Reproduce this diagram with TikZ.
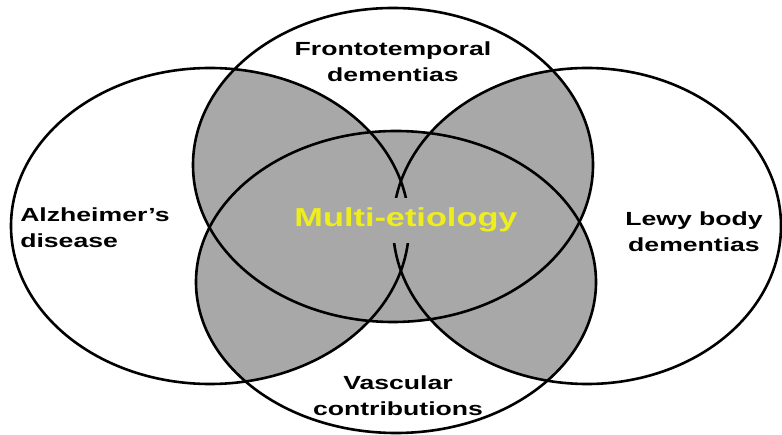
\documentclass[tikz,border=0pt]{standalone}
\usepackage{fontspec}
\setmainfont{Liberation Sans}
\usetikzlibrary{positioning}

\definecolor{lapgray}{RGB}{168,168,168}
\definecolor{etioyellow}{RGB}{238,238,30}

% the four etiologies
\def\alzring{(210,226) ellipse [x radius=199, y radius=158]}
\def\lewyring{(587,226) ellipse [x radius=194, y radius=158]}
\def\frontring{(393,165) ellipse [x radius=200, y radius=157]}
\def\vascring{(396,282) ellipse [x radius=200, y radius=151]}

\begin{document}
\begin{tikzpicture}[x=1pt, y=-1pt,
            ring/.style={draw=black, line width=2.6pt},
            lbl/.style={font=\bfseries\fontsize{19}{26}\selectfont, align=center, xscale=1.4, transform shape, inner sep=0pt},
            midlbl/.style={font=\bfseries\fontsize{26}{28}\selectfont, text=etioyellow, fill=lapgray, xscale=1.32, transform shape, inner xsep=2pt, inner ysep=10pt}
        ]
    \useasboundingbox[fill=white] (0,0) rectangle (782,435);

    % shade every pairwise overlap
    \begin{scope}\clip \alzring; \fill[lapgray] \frontring; \end{scope}
    \begin{scope}\clip \alzring; \fill[lapgray] \vascring; \end{scope}
    \begin{scope}\clip \alzring; \fill[lapgray] \lewyring; \end{scope}
    \begin{scope}\clip \lewyring; \fill[lapgray] \frontring; \end{scope}
    \begin{scope}\clip \lewyring; \fill[lapgray] \vascring; \end{scope}
    \begin{scope}\clip \frontring; \fill[lapgray] \vascring; \end{scope}

    \draw[ring] \alzring;
    \draw[ring] \lewyring;
    \draw[ring] \frontring;
    \draw[ring] \vascring;

    \node[midlbl, anchor=base] (multi) at (406,227) {Multi-etiology};

    \node[lbl] (front) at (393,62) {Frontotemporal\\dementias};
    \node[lbl] (vasc) at (398,396) {Vascular\\contributions};
    \node[lbl, anchor=west, align=left] (alz) at (20,228) {Alzheimer’s\\disease};
    \node[lbl] (lewy) at (694,232) {Lewy body\\dementias};

\end{tikzpicture}
\end{document}
